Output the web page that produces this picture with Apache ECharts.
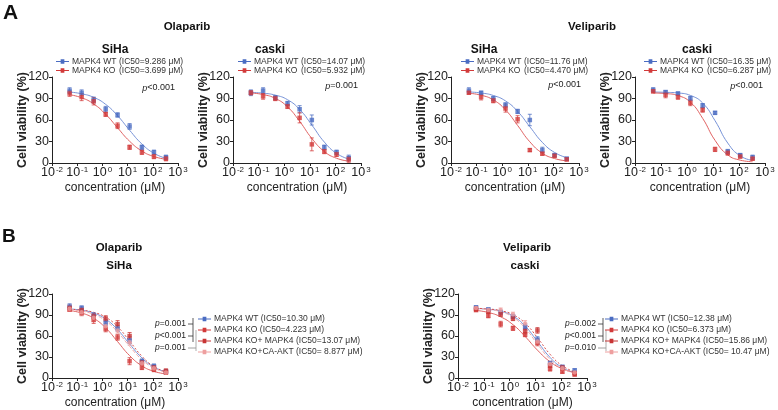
<!DOCTYPE html>
<html><head><meta charset="utf-8">
<script src="https://cdn.jsdelivr.net/npm/echarts@6/dist/echarts.min.js"></script>
<style>html,body{margin:0;padding:0;background:#fff}#c{width:778px;height:410px}</style>
</head><body><div id="c"></div>
<script>
// ---------- data ----------
const doses = [0.05, 0.15, 0.45, 1.35, 4, 12, 37, 111, 333];
const xTickExp = ['-2', '-1', '0', '1', '2', '3'];

// A1 Olaparib SiHa
const a1Names = ['MAPK4 WT (IC50=9.286 μM)', 'MAPK4 KO (IC50=3.699 μM)'];
const a1WT = [101, 98, 88, 75, 67, 51, 22, 15, 8];
const a1WTErr = [4, 4, 4, 4, 3, 4, 3, 3, 3];
const a1WTFit = [99, 96.6, 91.6, 81.8, 66, 45.7, 26.5, 13.6, 6.5];
const a1KO = [97, 92, 86, 68, 52, 22, 15, 9, 6];
const a1KOErr = [4, 5, 5, 3, 4, 3, 3, 3, 3];
const a1KOFit = [95.3, 91, 82.4, 68, 49.1, 30.4, 16.7, 9, 5.2];
const a1P = '<0.001';

// A2 Olaparib caski
const a2Names = ['MAPK4 WT (IC50=14.07 μM)', 'MAPK4 KO (IC50=5.932 μM)'];
const a2WT = [98, 101, 91, 83, 75, 60, 22, 15, 7];
const a2WTErr = [4, 4, 3, 3, 5, 7, 3, 3, 4];
const a2WTFit = [98.4, 97.4, 94.7, 88.3, 74.8, 53, 29.2, 13.4, 5.4];
const a2KO = [98, 93, 90, 79, 63, 26, 16, 12, 5];
const a2KOErr = [3, 4, 3, 3, 7, 9, 3, 3, 4];
const a2KOFit = [97.7, 95.5, 90.1, 78.3, 58.2, 34.3, 16, 6.6, 2.6];
const a2P = '=0.001';

// A3 Veliparib SiHa
const a3Names = ['MAPK4 WT (IC50=11.76 μM)', 'MAPK4 KO (IC50=4.470 μM)'];
const a3WT = [101, 98, 90, 81, 72, 60, 18, 11, 6];
const a3WTErr = [4, 2, 3, 3, 3, 8, 4, 2, 2];
const a3WTFit = [99.1, 97.7, 94.2, 86.6, 72, 50.6, 28.8, 14.7, 7.4];
const a3KO = [98, 92, 87, 76, 61, 18, 13, 10, 5];
const a3KOErr = [2, 4, 3, 5, 5, 2, 2, 2, 2];
const a3KOFit = [97.3, 94.6, 88, 74.1, 52.4, 29.6, 13.7, 6.2, 3];
const a3P = '<0.001';

// A4 Veliparib caski
const a4Names = ['MAPK4 WT (IC50=16.35 μM)', 'MAPK4 KO (IC50=6.287 μM)'];
const a4WT = [102, 99, 97, 90, 80, 70, 16, 11, 8];
const a4WTErr = [3, 2, 2, 3, 3, 2, 3, 2, 3];
const a4WTFit = [99, 98.6, 97.7, 94.3, 83.7, 59, 27.8, 9.9, 3.6];
const a4KO = [100, 95, 92, 84, 74, 19, 14, 9, 6];
const a4KOErr = [2, 4, 3, 4, 3, 3, 3, 2, 2];
const a4KOFit = [97.7, 96.9, 94.1, 84.8, 62.3, 31.6, 11.3, 4, 1.8];
const a4P = '<0.001';

// B1 Olaparib SiHa
const b1Names = ['MAPK4 WT (IC50=10.30 μM)', 'MAPK4 KO (IC50=4.223 μM)', 'MAPK4 KO+ MAPK4 (IC50=13.07 μM)', 'MAPK4 KO+CA-AKT (IC50= 8.877 μM)'];
const b1WT = [102, 100, 89, 79, 71, 54, 24, 17, 9];
const b1WTErr = [4, 3, 4, 4, 4, 5, 3, 3, 3];
const b1WTFit = [98.6, 96.8, 92.7, 84.1, 69, 48.6, 28.7, 15.6, 8.7];
const b1KO = [98, 93, 83, 70, 58, 24, 15, 12, 8];
const b1KOErr = [3, 4, 5, 4, 4, 5, 3, 3, 3];
const b1KOFit = [96.3, 92.8, 85.3, 71.5, 52, 32, 17.4, 9.5, 5.8];
const b1RE = [100, 97, 88, 85, 77, 60, 22, 15, 10];
const b1REErr = [4, 3, 4, 4, 5, 5, 3, 3, 3];
const b1REFit = [98.2, 96.9, 93.8, 86.8, 73.3, 52.7, 31.1, 16.4, 8.8];
const b1AK = [99, 94, 86, 74, 68, 51, 21, 14, 8];
const b1AKErr = [4, 4, 5, 4, 4, 4, 3, 3, 3];
const b1AKFit = [97.5, 95.5, 90.9, 81.6, 65.8, 45.2, 26.2, 14.2, 8];
const b1P = ['=0.001', '<0.001', '=0.001'];

// B2 Veliparib caski
const b2Names = ['MAPK4 WT (IC50=12.38 μM)', 'MAPK4 KO (IC50=6.373 μM)', 'MAPK4 KO+ MAPK4 (IC50=15.86 μM)', 'MAPK4 KO+CA-AKT (IC50= 10.47 μM)'];
const b2WT = [101, 98, 94, 88, 73, 55, 21, 16, 11];
const b2WTErr = [2, 2, 3, 3, 4, 4, 3, 2, 2];
const b2WTFit = [99.3, 98.2, 95.3, 88.4, 74.2, 52.2, 29.4, 14.8, 7.8];
const b2KO = [97, 89, 77, 71, 62, 50, 13, 9, 5];
const b2KOErr = [2, 3, 4, 3, 3, 4, 3, 2, 2];
const b2KOFit = [96.5, 93.6, 87.4, 76.2, 59.3, 39.8, 23.3, 13.1, 7.7];
const b2RE = [99, 95, 91, 85, 67, 68, 18, 15, 7];
const b2REErr = [2, 3, 3, 3, 4, 4, 3, 2, 2];
const b2REFit = [99.5, 98.6, 96.2, 90.5, 78.2, 57.6, 33.9, 17.4, 8.9];
const b2AK = [100, 97, 97, 91, 78, 52, 20, 14, 8];
const b2AKErr = [2, 2, 3, 3, 4, 4, 3, 2, 2];
const b2AKFit = [99.2, 97.9, 94.6, 86.7, 71.3, 48.5, 26.6, 13.4, 7.1];
const b2P = ['=0.002', '<0.001', '=0.010'];

// ---------- styles ----------
const FONT = 'Liberation Sans, Arial, sans-serif';
const ST = {
  wt: { marker: '#4a6cc2', line: '#7793d8', type: 'solid', symbol: 'rect' },
  ko: { marker: '#d23a3a', line: '#e06262', type: 'solid', symbol: 'rect' },
  re: { marker: '#c83434', line: '#d84f4f', type: [2, 2], symbol: 'rect' },
  ak: { marker: '#ee9f9f', line: '#f0aaaa', type: [4, 2], symbol: 'circle' }
};
const ICON = 'path://M0,3.4H5V1.5H9V3.4H14V4.6H9V6.5H5V4.6H0Z';

const panels = [
  { grid: { left: 52, top: 77, width: 126, height: 86 }, names: a1Names, mean: [a1WT, a1KO], err: [a1WTErr, a1KOErr], fit: [a1WTFit, a1KOFit], st: ['wt', 'ko'], legend: { left: 56, top: 57 }, kind: 'A' },
  { grid: { left: 233, top: 77, width: 128, height: 86 }, names: a2Names, mean: [a2WT, a2KO], err: [a2WTErr, a2KOErr], fit: [a2WTFit, a2KOFit], st: ['wt', 'ko'], legend: { left: 238, top: 57 }, kind: 'A' },
  { grid: { left: 451, top: 77, width: 128, height: 86 }, names: a3Names, mean: [a3WT, a3KO], err: [a3WTErr, a3KOErr], fit: [a3WTFit, a3KOFit], st: ['wt', 'ko'], legend: { left: 461, top: 57 }, kind: 'A' },
  { grid: { left: 635, top: 77, width: 130, height: 86 }, names: a4Names, mean: [a4WT, a4KO], err: [a4WTErr, a4KOErr], fit: [a4WTFit, a4KOFit], st: ['wt', 'ko'], legend: { left: 644, top: 57 }, kind: 'A' },
  { grid: { left: 52, top: 294, width: 126, height: 85 }, names: b1Names, mean: [b1WT, b1KO, b1RE, b1AK], err: [b1WTErr, b1KOErr, b1REErr, b1AKErr], fit: [b1WTFit, b1KOFit, b1REFit, b1AKFit], st: ['wt', 'ko', 're', 'ak'], legend: { left: 198, top: 314 }, kind: 'B' },
  { grid: { left: 458, top: 294, width: 129, height: 85 }, names: b2Names, mean: [b2WT, b2KO, b2RE, b2AK], err: [b2WTErr, b2KOErr, b2REErr, b2AKErr], fit: [b2WTFit, b2KOFit, b2REFit, b2AKFit], st: ['wt', 'ko', 're', 'ak'], legend: { left: 605, top: 314 }, kind: 'B' }
];

const grids = [], xAxes = [], yAxes = [], series = [], legends = [];
panels.forEach((p, i) => {
  grids.push(Object.assign({ containLabel: false }, p.grid));
  xAxes.push({
    type: 'log', logBase: 10, min: 0.01, max: 1000, gridIndex: i,
    splitLine: { show: false },
    axisLine: { lineStyle: { color: '#222', width: 1 } },
    axisTick: { length: 3, lineStyle: { color: '#222' } },
    axisLabel: {
      margin: 3, color: '#222',
      formatter: v => { const e = Math.round(Math.log10(v)); return '{b|10}{s|' + xTickExp[e + 2] + '}'; },
      rich: { b: { fontSize: 12.5, fontFamily: FONT, color: '#222', lineHeight: 14 }, s: { fontSize: 8, fontFamily: FONT, color: '#222', verticalAlign: 'top', lineHeight: 14, padding: [0, 0, 0, 1] } }
    },
    name: 'concentration (μM)', nameLocation: 'middle', nameGap: 19,
    nameTextStyle: { fontSize: 12, color: '#222', fontFamily: FONT }
  });
  yAxes.push({
    type: 'value', min: 0, max: 120, interval: 30, gridIndex: i,
    splitLine: { show: false },
    axisLine: { show: true, lineStyle: { color: '#222', width: 1 } },
    axisTick: { show: true, length: 3, lineStyle: { color: '#222' } },
    axisLabel: { fontSize: 12.5, color: '#222', margin: 3, fontFamily: FONT },
    name: 'Cell viability (%)', nameLocation: 'middle', nameGap: 23, nameMoveOverlap: false,
    nameTextStyle: { fontSize: 12.5, fontWeight: 'bold', color: '#222', fontFamily: FONT }
  });
  p.names.forEach((nm, j) => {
    const s = ST[p.st[j]];
    series.push({
      type: 'line', name: nm, xAxisIndex: i, yAxisIndex: i,
      data: doses.map((d, k) => [d, p.fit[j][k]]),
      smooth: 0.5, showSymbol: false, symbol: 'none', silent: true,
      lineStyle: { color: s.line, width: 1, type: s.type }, itemStyle: { color: s.marker }, z: 2
    });
    series.push({
      type: 'custom', xAxisIndex: i, yAxisIndex: i, silent: true, z: 3,
      data: doses.map((d, k) => [d, p.mean[j][k], p.err[j][k]]),
      encode: { x: 0, y: 1 },
      renderItem: (params, api) => {
        const x = api.value(0), y = api.value(1), e = api.value(2);
        const a = api.coord([x, y + e]), b = api.coord([x, y - e]);
        const st = { stroke: s.marker, lineWidth: 0.9, opacity: 0.85 };
        return { type: 'group', children: [
          { type: 'line', shape: { x1: a[0], y1: a[1], x2: b[0], y2: b[1] }, style: st },
          { type: 'line', shape: { x1: a[0] - 2, y1: a[1], x2: a[0] + 2, y2: a[1] }, style: st },
          { type: 'line', shape: { x1: b[0] - 2, y1: b[1], x2: b[0] + 2, y2: b[1] }, style: st }
        ] };
      }
    });
    series.push({
      type: 'scatter', xAxisIndex: i, yAxisIndex: i, silent: true, z: 4,
      data: doses.map((d, k) => [d, p.mean[j][k]]),
      symbol: s.symbol, symbolSize: 4.5, itemStyle: { color: s.marker }
    });
  });
  if (p.kind === 'A') {
    legends.push({
      left: p.legend.left, top: p.legend.top, orient: 'vertical', padding: 0, itemGap: 0,
      itemWidth: 13, itemHeight: 7, selectedMode: false,
      data: p.names.map(n => ({ name: n, icon: ICON })),
      formatter: n => { const k = n.indexOf(' ('); return '{a|' + n.slice(0, k) + '}{b|' + n.slice(k + 1) + '}'; },
      textStyle: { color: '#333', fontSize: 8.5, fontFamily: FONT, padding: [0, 0, 0, -2],
        rich: { a: { fontSize: 8.5, width: 47, lineHeight: 9.5, fontFamily: FONT, color: '#333' }, b: { fontSize: 8.5, lineHeight: 9.5, fontFamily: FONT, color: '#333' } } }
    });
  } else {
    legends.push({
      left: p.legend.left, top: p.legend.top, orient: 'vertical', padding: 0, itemGap: 1,
      itemWidth: 13, itemHeight: 7, selectedMode: false,
      data: p.names.map(n => ({ name: n, icon: ICON })),
      textStyle: { color: '#333', fontSize: 8.5, fontFamily: FONT, lineHeight: 10, padding: [0, 0, 0, -2] }
    });
  }
});

// ---------- annotations ----------
const g = [];
function txt(t, x, y, size, bold, align) {
  g.push({ type: 'text', x: x, y: y, silent: true, style: { text: t, fill: '#111', fontSize: size, fontWeight: bold ? 'bold' : 'normal', fontFamily: FONT, align: align || 'center', verticalAlign: 'middle' } });
}
function ptxt(t, x, y, size) {
  g.push({ type: 'text', x: x, y: y, silent: true, style: { text: '{i|p}{n|' + t + '}', align: 'right', verticalAlign: 'middle', fill: '#222',
    rich: { i: { fontStyle: 'italic', fontSize: size, fontFamily: FONT, fill: '#222' }, n: { fontSize: size, fontFamily: FONT, fill: '#222' } } } });
}
function ln(x1, y1, x2, y2, c) {
  g.push({ type: 'line', silent: true, shape: { x1, y1, x2, y2 }, style: { stroke: c || '#333', lineWidth: 0.8 } });
}
txt('A', 3, 13, 21, true, 'left');
txt('B', 2, 237, 19, true, 'left');
txt('Olaparib', 187, 27, 11.5, true);
txt('Veliparib', 592, 27, 11.5, true);
txt('SiHa', 115, 50, 12, true);
txt('caski', 270, 50, 12, true);
txt('SiHa', 484, 50, 12, true);
txt('caski', 697, 50, 12, true);
txt('Olaparib', 119, 248, 11.5, true);
txt('SiHa', 119, 266, 11.5, true);
txt('Veliparib', 527, 248, 11.5, true);
txt('caski', 525, 266, 11.5, true);
ptxt(a1P, 175, 88, 9);
ptxt(a2P, 358, 86, 9);
ptxt(a3P, 581, 85, 9);
ptxt(a4P, 763, 86, 9);
// B1 brackets
ptxt(b1P[0], 186, 324, 8.5); ln(188, 324, 193, 324); ln(193, 318, 193, 330);
ptxt(b1P[1], 186, 336, 8.5); ln(188, 336, 193, 336); ln(193, 330, 193, 342);
ptxt(b1P[2], 186, 348, 8.5); ln(188, 348, 196, 348, '#888'); ln(196, 330, 196, 351, '#999');
// B2 brackets
ptxt(b2P[0], 596, 324, 8.5); ln(598, 324, 603, 324); ln(603, 318, 603, 330);
ptxt(b2P[1], 596, 336, 8.5); ln(598, 336, 603, 336); ln(603, 330, 603, 342);
ptxt(b2P[2], 596, 348, 8.5); ln(598, 348, 606, 348, '#888'); ln(606, 330, 606, 351, '#999');

const chart = echarts.init(document.getElementById('c'), null, { renderer: 'canvas' });
chart.setOption({
  animation: false,
  backgroundColor: '#fff',
  textStyle: { fontFamily: FONT },
  grid: grids, xAxis: xAxes, yAxis: yAxes, legend: legends, series: series, graphic: g
});
</script></body></html>
